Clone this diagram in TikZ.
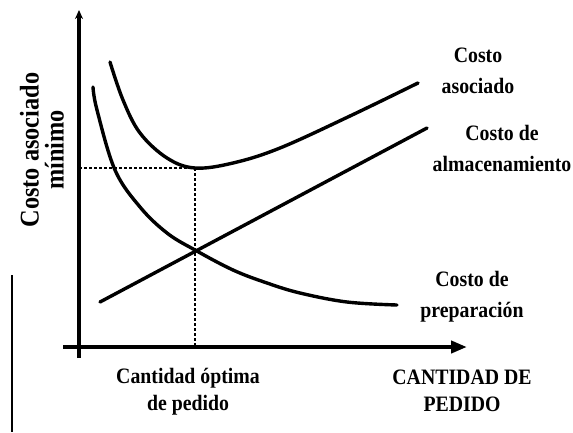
\documentclass[tikz,border=0pt]{standalone}
\usepackage{fontspec}
\setmainfont{Liberation Serif}[FakeStretch=0.9]
\usetikzlibrary{positioning,arrows.meta}

\begin{document}
\begin{tikzpicture}[x=1pt, y=-1pt, >=stealth,
  every node/.style={font=\fontsize{22}{31}\selectfont\bfseries, align=center, inner sep=0pt},
  curva/.style={line width=3.4pt, line cap=round},
  guia/.style={line width=1.6pt, dash pattern=on 3pt off 2pt},
  lblbajo/.style={font=\fontsize{22}{27}\selectfont\bfseries}]
  \useasboundingbox (0,0) rectangle (573,432);

  % Axes
  \coordinate (yini) at (79,358);
  \coordinate (ytop) at (79,10);
  \coordinate (xini) at (63,347);
  \coordinate (xend) at (467,347);
  \draw[line width=3.4pt, -{Stealth[length=9pt,width=8pt]}] (yini) -- (ytop);
  \draw[line width=4pt, -{Triangle[length=16pt,width=12pt]}] (xini) -- (xend);

  % scan border on the left
  \draw[line width=1.2pt] (12,275) -- (12,432);

  % Costo de almacenamiento (line)
  \coordinate (alm0) at (100,302);
  \coordinate (alm1) at (427,128);
  \draw[curva] (alm0) -- (alm1);

  % Costo de preparacion
  \draw[curva] plot[smooth, tension=0.6] coordinates
    {(93,87) (97,110) (115,170) (140,207) (167,233) (195,250)
     (233,270) (267,283) (300,293) (347,302) (397,305)};

  % Costo asociado (total)
  \draw[curva] plot[smooth, tension=0.6] coordinates
    {(110,62) (123,100) (140,133) (167,158) (195,168)
     (233,163) (280,148) (350,116) (418,83)};

  % Optimum guides
  \coordinate (tmin) at (195,168);
  \coordinate (opt) at (195,250);
  \coordinate (yopt) at (79,168);
  \draw[guia] (yopt) -- (tmin);
  \draw[guia] (tmin) -- (tmin |- xini);

  % Labels
  \node (total) at (478,71) {Costo\\asociado};
  \node (almac) at (502,148) {Costo de\\almacenamiento};
  \node (prep) at (472,297) {Costo de\\preparación};
  \node[lblbajo] (cantidad) at (462,391) {CANTIDAD DE\\PEDIDO};
  \node[lblbajo] (optima) at (188,392) {Cantidad óptima\\de pedido};
  \node[font=\fontsize{27}{25}\selectfont\bfseries, rotate=90] (costo) at (42,150)
    {Costo asociado\\mínimo};

\end{tikzpicture}
\end{document}
